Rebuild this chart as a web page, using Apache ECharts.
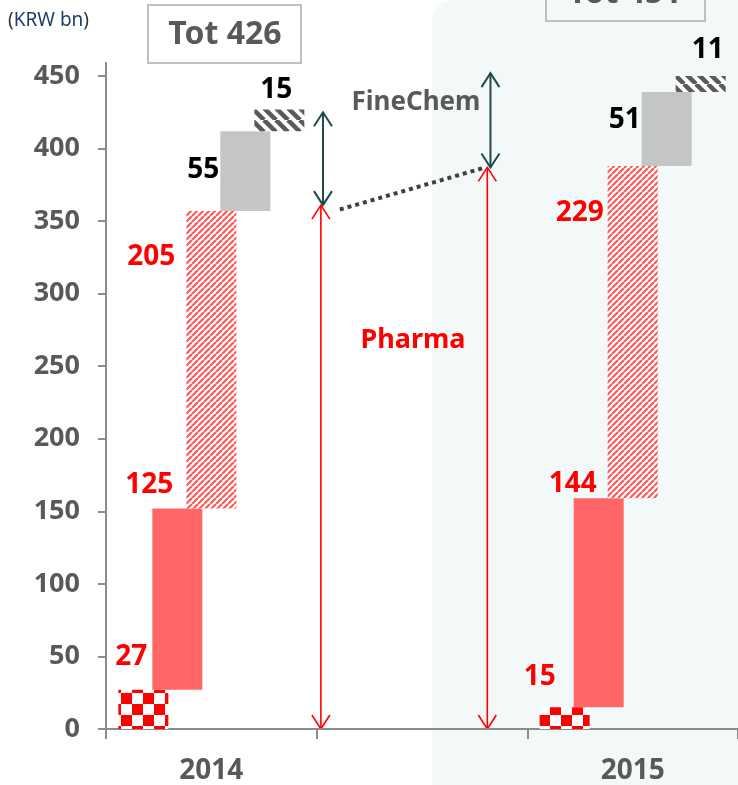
<!DOCTYPE html>
<html>
<head>
<meta charset="utf-8">
<script src="https://cdn.jsdelivr.net/npm/echarts@6/dist/echarts.min.js"></script>
<style>
	html, body { margin: 0; padding: 0; background: #fff; }
	#main { width: 738px; height: 785px; }
</style>
</head>
<body>
<div id="main"></div>
<script>
// data
var years = ['2014', '', '2015'];
var checkerVals = [27, '-', 15];
var pharmaSolid = [125, '-', 144];
var pharmaHatch = [205, '-', 229];
var fineGrey = [55, '-', 51];
var fineHatch = [15, '-', 11];
var totals = [426, 451];

// arrows (x on hidden 0..3 axis, y in KRW bn)
var pharmaArrows = [[1.02, 0, 361], [1.81, 0, 387]];
var fineArrows = [[1.03, 361, 425], [1.825, 387, 452]];
var linkLine = [[1.11, 358], [1.80, 387]];

var FONT = '"Noto Sans", "Open Sans", sans-serif';
var GREY_TXT = '#595959';
var PANEL = '#f3f8f9';

//patterns
function checkerPattern() {
	var c = document.createElement('canvas');
	c.width = 22; c.height = 22;
	var g = c.getContext('2d');
	g.fillStyle = '#fff'; g.fillRect(0, 0, 22, 22);
	g.fillStyle = '#ff0000';
	g.fillRect(0, 0, 11, 11);
	g.fillRect(11, 11, 11, 11);
	return c;
}
function stripePattern(size, color, width, back, dir) {
	var c = document.createElement('canvas');
	c.width = size; c.height = size;
	var g = c.getContext('2d');
	g.fillStyle = back; g.fillRect(0, 0, size, size);
	g.strokeStyle = color; g.lineWidth = width;
	for (var k = -1; k <= 1; k++) {
		g.beginPath();
		if (dir > 0) {
			g.moveTo(k * size, size); g.lineTo(k * size + size, 0);
		} else {
			g.moveTo(k * size, 0); g.lineTo(k * size + size, size);
		}
		g.stroke();
	}
	return c;
}

var fills = [
	{ image: checkerPattern(), repeat: 'repeat' },
	'#ff6666',
	{ image: stripePattern(6, '#ff5a5a', 2.2, '#ffffff', 1), repeat: 'repeat' },
	'#c3c5c6',
	{ image: stripePattern(12, '#5a5a5a', 4.5, '#ffffff', -1), repeat: 'repeat' }
];
var labelColors = ['#ff0000', '#ff0000', '#ff0000', '#000', '#000'];
// label anchor relative to bar's top-left, per category
var labelPos = [
	[[13, -33], null, [0, -30]],
	[[-3, -23], null, [-1, -14]],
	[[-35, 46], null, [-28, 47]],
	[[-17, 39], null, [-17, 28]],
	[[22, -19], null, [32, -26]]
];
var values = [checkerVals, pharmaSolid, pharmaHatch, fineGrey, fineHatch];

var series = [];
var running = [0, '-', 0];
values.forEach(function (vals, i) {
	var base = running.slice();
	series.push({
		type: 'bar', stack: 's' + i, barWidth: 50, barGap: '-32%',
		data: base, itemStyle: { color: 'transparent' }, silent: true
	});
	series.push({
		type: 'bar', stack: 's' + i, barWidth: 50, barGap: '-32%',
		itemStyle: { color: fills[i] },
		label: {
			show: true, formatter: '{c}', fontSize: 28, fontWeight: 'bold',
			fontFamily: FONT, color: labelColors[i], align: 'center', verticalAlign: 'middle'
		},
		data: vals.map(function (v, j) {
			if (v === '-') return '-';
			return { value: v, label: { position: labelPos[i][j] } };
		})
	});
	running = running.map(function (r, j) { return r === '-' ? '-' : r + vals[j]; });
});

var chart = echarts.init(document.getElementById('main'));
chart.setOption({
	animation: false,
	grid: { left: 106, right: 0, top: 76, bottom: 56, containLabel: false },
	xAxis: [{
		type: 'category', data: years,
		axisLine: { lineStyle: { color: '#8c8c8c', width: 2 } },
		axisTick: { show: true, length: 10, lineStyle: { color: '#8c8c8c', width: 2 } },
		axisLabel: { fontSize: 28, fontWeight: 'bold', color: GREY_TXT, fontFamily: FONT, margin: 28 }
	}, {
		type: 'value', min: 0, max: 3, show: false
	}],
	yAxis: {
		type: 'value', min: 0, max: 450, interval: 50,
		splitLine: { show: false },
		axisLine: { show: true, lineStyle: { color: '#8c8c8c', width: 2 } },
		axisTick: { show: true, length: 8, lineStyle: { color: '#8c8c8c', width: 2 } },
		axisLabel: { fontSize: 27, fontWeight: 'bold', color: GREY_TXT, fontFamily: FONT, margin: 26 }
	},
	series: series
});

//annotations through the axes
function px(p) { return chart.convertToPixel({ xAxisIndex: 1, yAxisIndex: 0 }, p); }
function arrow(x, y0, y1, color, w) {
	var a = px([x, y0]), b = px([x, y1]);
	var h = 14, s = 9;
	return [
		{ type: 'line', shape: { x1: a[0], y1: a[1], x2: b[0], y2: b[1] }, style: { stroke: color, lineWidth: w } },
		{ type: 'polyline', shape: { points: [[a[0] - s, a[1] - h], [a[0], a[1]], [a[0] + s, a[1] - h]] }, style: { stroke: color, lineWidth: w, fill: null } },
		{ type: 'polyline', shape: { points: [[b[0] - s, b[1] + h], [b[0], b[1]], [b[0] + s, b[1] + h]] }, style: { stroke: color, lineWidth: w, fill: null } }
	];
}

var els = [];
els.push({
	type: 'rect', z: -10, silent: true,
	shape: { x: 432, y: 0, width: 330, height: 800, r: [22, 0, 0, 0] },
	style: { fill: PANEL }
});
// y axis line runs a little past 450
var yTop = px([0, 450]);
els.push({
	type: 'line', shape: { x1: 106, y1: yTop[1], x2: 106, y2: yTop[1] - 14 },
	style: { stroke: '#8c8c8c', lineWidth: 2 }
});
pharmaArrows.forEach(function (a) { els = els.concat(arrow(a[0], a[1], a[2], '#ff0000', 1.6)); });
fineArrows.forEach(function (a) { els = els.concat(arrow(a[0], a[1], a[2], '#1f4a4a', 2)); });
var l0 = px(linkLine[0]), l1 = px(linkLine[1]);
els.push({
	type: 'line', shape: { x1: l0[0], y1: l0[1], x2: l1[0], y2: l1[1] },
	style: { stroke: '#404040', lineWidth: 4, lineDash: [4, 4] }
});
els.push({
	type: 'text', x: 413, y: 340,
	style: { text: 'Pharma', fill: '#ff0000', font: 'bold 27px ' + FONT, align: 'center', verticalAlign: 'middle' }
});
els.push({
	type: 'text', x: 416, y: 103,
	style: { text: 'FineChem', fill: GREY_TXT, font: 'bold 26px ' + FONT, align: 'center', verticalAlign: 'middle' }
});
els.push({
	type: 'rect', shape: { x: 148, y: 5, width: 153, height: 58 },
	style: { fill: '#fff', stroke: '#bfbfbf', lineWidth: 2 }
});
els.push({
	type: 'text', x: 225, y: 35,
	style: { text: 'Tot ' + totals[0], fill: GREY_TXT, font: 'bold 32px ' + FONT, align: 'center', verticalAlign: 'middle' }
});
els.push({
	type: 'rect', shape: { x: 546, y: -40, width: 159, height: 61 },
	style: { fill: PANEL, stroke: '#bfbfbf', lineWidth: 2 }
});
els.push({
	type: 'text', x: 625, y: -6,
	style: { text: 'Tot ' + totals[1], fill: GREY_TXT, font: 'bold 32px ' + FONT, align: 'center', verticalAlign: 'middle' }
});
els.push({
	type: 'text', x: 8, y: 21,
	style: {
		text: '{p|(}{u|KRW bn}{p|)}', verticalAlign: 'middle',
		rich: {
			p: { fill: '#333', font: '19px ' + FONT },
			u: { fill: '#1f3d6b', font: '19px ' + FONT }
		}
	}
});
chart.setOption({ graphic: els });
</script>
</body>
</html>
